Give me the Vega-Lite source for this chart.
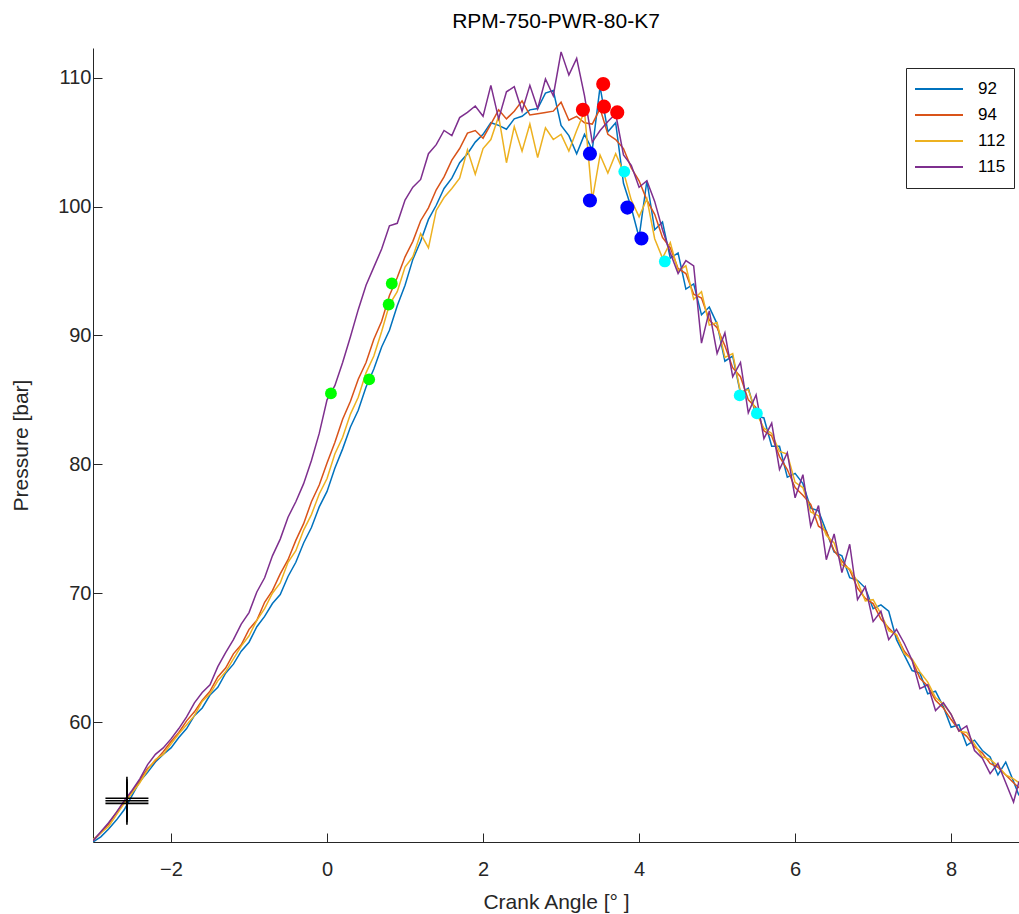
{
 "$schema": "https://vega.github.io/schema/vega-lite/v6.json",
 "width": 926,
 "height": 794,
 "autosize": {"type": "none"},
 "padding": {"left": 93, "top": 48, "right": 0, "bottom": 72},
 "background": "white",
 "title": {"text": "RPM-750-PWR-80-K7", "fontSize": 21, "fontWeight": "normal", "color": "#000000", "font": "Liberation Sans", "offset": 16, "anchor": "middle"},
 "config": {"view": {"stroke": null}, "font": "Liberation Sans"},
 "datasets": {
  "curves": [
   {"x":-3.0,"92":50.7,"94":50.8,"112":50.9,"115":50.8},
   {"x":-2.9,"92":51.1,"94":51.4,"112":51.4,"115":51.5},
   {"x":-2.8,"92":51.7,"94":52.1,"112":51.9,"115":52.2},
   {"x":-2.7,"92":52.4,"94":53.0,"112":52.8,"115":53.0},
   {"x":-2.6,"92":53.2,"94":53.8,"112":53.7,"115":53.9},
   {"x":-2.5,"92":54.3,"94":54.6,"112":54.5,"115":54.7},
   {"x":-2.4,"92":55.4,"94":55.5,"112":55.3,"115":55.6},
   {"x":-2.3,"92":56.1,"94":56.4,"112":56.3,"115":56.7},
   {"x":-2.2,"92":56.9,"94":57.0,"112":57.1,"115":57.5},
   {"x":-2.1,"92":57.5,"94":57.7,"112":57.5,"115":58.0},
   {"x":-2.0,"92":58.0,"94":58.5,"112":58.3,"115":58.7},
   {"x":-1.9,"92":58.8,"94":59.2,"112":59.1,"115":59.5},
   {"x":-1.8,"92":59.5,"94":60.1,"112":59.8,"115":60.4},
   {"x":-1.7,"92":60.5,"94":60.8,"112":60.5,"115":61.5},
   {"x":-1.6,"92":61.1,"94":61.7,"112":61.6,"115":62.3},
   {"x":-1.5,"92":62.1,"94":62.4,"112":62.2,"115":62.9},
   {"x":-1.4,"92":62.7,"94":63.5,"112":63.2,"115":64.3},
   {"x":-1.3,"92":63.8,"94":64.2,"112":63.9,"115":65.4},
   {"x":-1.2,"92":64.5,"94":65.3,"112":64.9,"115":66.4},
   {"x":-1.1,"92":65.5,"94":66.0,"112":65.9,"115":67.6},
   {"x":-1.0,"92":66.2,"94":67.2,"112":66.7,"115":68.5},
   {"x":-0.9,"92":67.4,"94":67.9,"112":67.9,"115":70.1},
   {"x":-0.8,"92":68.2,"94":69.3,"112":68.8,"115":71.2},
   {"x":-0.7,"92":69.2,"94":70.2,"112":70.0,"115":72.9},
   {"x":-0.6,"92":69.9,"94":71.5,"112":70.8,"115":74.2},
   {"x":-0.5,"92":71.3,"94":72.6,"112":72.4,"115":75.9},
   {"x":-0.4,"92":72.4,"94":74.1,"112":73.3,"115":77.1},
   {"x":-0.3,"92":73.9,"94":75.4,"112":74.9,"115":78.5},
   {"x":-0.2,"92":75.1,"94":77.1,"112":76.1,"115":80.3},
   {"x":-0.1,"92":76.7,"94":78.4,"112":77.7,"115":82.4},
   {"x":0.0,"92":77.9,"94":80.1,"112":78.9,"115":85.0},
   {"x":0.1,"92":79.7,"94":81.7,"112":80.8,"115":86.1},
   {"x":0.2,"92":81.2,"94":83.5,"112":82.1,"115":87.9},
   {"x":0.3,"92":82.9,"94":84.9,"112":83.9,"115":89.9},
   {"x":0.4,"92":84.2,"94":86.6,"112":85.2,"115":92.0},
   {"x":0.5,"92":86.0,"94":87.9,"112":87.1,"115":93.9},
   {"x":0.6,"92":87.4,"94":89.7,"112":88.4,"115":95.3},
   {"x":0.7,"92":89.1,"94":91.1,"112":90.3,"115":96.7},
   {"x":0.8,"92":90.4,"94":93.1,"112":92.4,"115":98.5},
   {"x":0.9,"92":92.3,"94":94.5,"112":93.4,"115":98.7},
   {"x":1.0,"92":93.9,"94":96.1,"112":95.3,"115":100.5},
   {"x":1.1,"92":95.9,"94":97.3,"112":96.1,"115":101.5},
   {"x":1.2,"92":97.3,"94":98.9,"112":97.9,"115":102.1},
   {"x":1.3,"92":99.0,"94":99.9,"112":96.8,"115":104.1},
   {"x":1.4,"92":100.1,"94":101.3,"112":99.7,"115":104.8},
   {"x":1.5,"92":101.4,"94":102.3,"112":100.7,"115":105.9},
   {"x":1.6,"92":102.2,"94":103.6,"112":101.4,"115":105.5},
   {"x":1.7,"92":103.4,"94":104.5,"112":102.2,"115":106.9},
   {"x":1.8,"92":104.1,"94":105.7,"112":104.4,"115":107.3},
   {"x":1.9,"92":105.0,"94":105.9,"112":102.5,"115":107.8},
   {"x":2.0,"92":105.6,"94":105.3,"112":104.5,"115":107.0},
   {"x":2.1,"92":106.5,"94":106.4,"112":105.2,"115":109.4},
   {"x":2.2,"92":106.3,"94":107.5,"112":107.0,"115":106.8},
   {"x":2.3,"92":106.0,"94":106.8,"112":103.4,"115":108.9},
   {"x":2.4,"92":106.8,"94":107.4,"112":106.2,"115":109.3},
   {"x":2.5,"92":107.0,"94":108.2,"112":104.3,"115":107.4},
   {"x":2.6,"92":107.5,"94":107.1,"112":106.4,"115":109.4},
   {"x":2.7,"92":107.6,"94":107.2,"112":103.8,"115":107.6},
   {"x":2.8,"92":108.8,"94":107.3,"112":106.1,"115":109.9},
   {"x":2.9,"92":109.0,"94":107.4,"112":105.2,"115":108.6},
   {"x":3.0,"92":106.3,"94":108.1,"112":105.6,"115":112.0},
   {"x":3.1,"92":105.5,"94":106.7,"112":104.3,"115":110.2},
   {"x":3.2,"92":104.1,"94":107.0,"112":105.9,"115":111.5},
   {"x":3.3,"92":105.6,"94":106.5,"112":107.4,"115":108.6},
   {"x":3.4,"92":104.4,"94":106.4,"112":100.5,"115":105.0},
   {"x":3.5,"92":109.3,"94":107.6,"112":104.0,"115":105.9},
   {"x":3.6,"92":105.8,"94":105.6,"112":102.6,"115":106.6},
   {"x":3.7,"92":106.5,"94":105.2,"112":104.1,"115":107.2},
   {"x":3.8,"92":101.8,"94":104.5,"112":102.7,"115":104.0},
   {"x":3.9,"92":99.9,"94":103.0,"112":100.5,"115":103.2},
   {"x":4.0,"92":97.6,"94":102.0,"112":99.2,"115":101.5},
   {"x":4.1,"92":102.0,"94":100.5,"112":100.6,"115":102.0},
   {"x":4.2,"92":98.2,"94":99.4,"112":97.5,"115":100.4},
   {"x":4.3,"92":98.8,"94":97.6,"112":96.0,"115":98.2},
   {"x":4.4,"92":96.0,"94":96.8,"112":97.2,"115":96.4},
   {"x":4.5,"92":96.4,"94":95.2,"112":95.0,"115":94.8},
   {"x":4.6,"92":93.6,"94":94.8,"112":95.4,"115":95.8},
   {"x":4.7,"92":94.0,"94":93.2,"112":92.8,"115":95.4},
   {"x":4.8,"92":91.6,"94":92.9,"112":93.4,"115":89.4},
   {"x":4.9,"92":92.2,"94":91.2,"112":90.8,"115":91.9},
   {"x":5.0,"92":90.9,"94":90.6,"112":91.0,"115":88.6},
   {"x":5.1,"92":88.0,"94":89.2,"112":88.3,"115":90.2},
   {"x":5.2,"92":88.4,"94":87.5,"112":88.6,"115":86.8},
   {"x":5.3,"92":85.5,"94":86.8,"112":85.6,"115":87.9},
   {"x":5.4,"92":85.9,"94":85.0,"112":85.8,"115":84.0},
   {"x":5.5,"92":83.8,"94":84.4,"112":84.0,"115":85.4},
   {"x":5.6,"92":83.6,"94":82.6,"112":82.8,"115":82.0},
   {"x":5.7,"92":81.4,"94":82.2,"112":82.4,"115":83.2},
   {"x":5.8,"92":81.4,"94":80.6,"112":81.0,"115":79.6},
   {"x":5.9,"92":79.0,"94":79.6,"112":80.8,"115":80.9},
   {"x":6.0,"92":79.3,"94":78.2,"112":78.6,"115":77.4},
   {"x":6.1,"92":78.5,"94":77.6,"112":78.2,"115":79.2},
   {"x":6.2,"92":76.6,"94":76.9,"112":76.3,"115":75.2},
   {"x":6.3,"92":76.4,"94":75.2,"112":76.0,"115":76.8},
   {"x":6.4,"92":74.8,"94":74.8,"112":74.5,"115":72.6},
   {"x":6.5,"92":73.2,"94":73.3,"112":73.9,"115":74.6},
   {"x":6.6,"92":72.9,"94":72.5,"112":72.2,"115":71.6},
   {"x":6.7,"92":71.2,"94":71.8,"112":71.9,"115":73.8},
   {"x":6.8,"92":71.0,"94":70.4,"112":70.9,"115":69.5},
   {"x":6.9,"92":70.4,"94":69.6,"112":69.4,"115":70.5},
   {"x":7.0,"92":68.8,"94":69.2,"112":69.5,"115":67.8},
   {"x":7.1,"92":69.1,"94":68.0,"112":68.4,"115":68.6},
   {"x":7.2,"92":68.6,"94":67.3,"112":67.1,"115":66.4},
   {"x":7.3,"92":66.4,"94":66.7,"112":66.8,"115":67.2},
   {"x":7.4,"92":65.2,"94":65.5,"112":65.3,"115":66.1},
   {"x":7.5,"92":64.0,"94":64.8,"112":64.9,"115":64.8},
   {"x":7.6,"92":63.8,"94":63.4,"112":63.9,"115":62.6},
   {"x":7.7,"92":62.2,"94":62.8,"112":63.1,"115":62.9},
   {"x":7.8,"92":62.4,"94":61.7,"112":61.9,"115":60.9},
   {"x":7.9,"92":61.2,"94":61.1,"112":61.4,"115":61.5},
   {"x":8.0,"92":59.6,"94":60.2,"112":60.6,"115":60.6},
   {"x":8.1,"92":59.8,"94":59.4,"112":59.3,"115":59.3},
   {"x":8.2,"92":58.2,"94":58.9,"112":59.2,"115":59.7},
   {"x":8.3,"92":58.6,"94":58.1,"112":58.3,"115":57.8},
   {"x":8.4,"92":57.8,"94":57.6,"112":57.3,"115":57.2},
   {"x":8.5,"92":57.3,"94":56.8,"112":57.1,"115":56.0},
   {"x":8.6,"92":55.9,"94":56.5,"112":56.6,"115":56.8},
   {"x":8.7,"92":56.9,"94":55.9,"112":55.9,"115":55.3},
   {"x":8.8,"92":55.4,"94":55.3,"112":55.6,"115":53.8},
   {"x":8.87,"92":54.3,"94":54.9,"112":55.3,"115":55.4}
  ],
  "dots": [
   {"x":3.28,"p":107.5,"kind":"max"},
   {"x":3.54,"p":109.5,"kind":"max"},
   {"x":3.55,"p":107.75,"kind":"max"},
   {"x":3.72,"p":107.3,"kind":"max"},
   {"x":3.37,"p":104.1,"kind":"min"},
   {"x":3.37,"p":100.47,"kind":"min"},
   {"x":3.85,"p":99.92,"kind":"min"},
   {"x":4.03,"p":97.52,"kind":"min"}
  ],
  "smalldots": [
   {"x":3.81,"p":102.71,"kind":"mid"},
   {"x":4.33,"p":95.74,"kind":"mid"},
   {"x":5.29,"p":85.35,"kind":"mid"},
   {"x":5.51,"p":83.95,"kind":"mid"},
   {"x":0.05,"p":85.5,"kind":"rise"},
   {"x":0.54,"p":86.59,"kind":"rise"},
   {"x":0.79,"p":92.4,"kind":"rise"},
   {"x":0.83,"p":94.03,"kind":"rise"}
  ],
  "cross": [
   {"x":-2.565,"p":54.09},
   {"x":-2.565,"p":53.9},
   {"x":-2.565,"p":53.7}
  ]
 },
 "layer": [
  {
   "data": {"name": "curves"},
   "transform": [{"fold": ["92", "94", "112", "115"], "as": ["series", "p"]}],
   "mark": {"type": "line", "strokeWidth": 1.5, "clip": true},
   "encoding": {
    "x": {"field": "x", "type": "quantitative",
     "scale": {"domain": [-3, 8.87], "nice": false, "zero": false},
     "axis": {"values": [-2, 0, 2, 4, 6, 8], "format": "~g", "title": "Crank Angle [° ]", "grid": false, "tickSize": -9, "labelFontSize": 20, "titleFontSize": 21, "titleFontWeight": "normal", "labelColor": "#262626", "titleColor": "#262626", "domainColor": "#262626", "tickColor": "#262626", "labelPadding": 26, "titlePadding": 12, "labelFont": "Liberation Sans", "titleFont": "Liberation Sans"}},
    "y": {"field": "p", "type": "quantitative",
     "scale": {"domain": [50.7, 112.3], "nice": false, "zero": false},
     "axis": {"values": [60, 70, 80, 90, 100, 110], "title": "Pressure [bar]", "grid": false, "tickSize": -9, "labelFontSize": 20, "titleFontSize": 21, "titleFontWeight": "normal", "labelColor": "#262626", "titleColor": "#262626", "domainColor": "#262626", "tickColor": "#262626", "labelPadding": 11, "titlePadding": 26, "labelFont": "Liberation Sans", "titleFont": "Liberation Sans"}},
    "color": {"field": "series", "type": "nominal",
     "scale": {"domain": ["92", "94", "112", "115"], "range": ["#0072BD", "#D95319", "#EDB120", "#7E2F8E"]},
     "legend": {"orient": "none", "legendX": 813, "legendY": 20, "title": null, "symbolType": "stroke", "symbolSize": 2304, "symbolStrokeWidth": 2, "labelFontSize": 17, "labelColor": "#000000", "labelFont": "Liberation Sans", "strokeColor": "#262626", "fillColor": "#ffffff", "padding": 8, "rowPadding": 0, "clipHeight": 26, "labelOffset": 14}}
   }
  },
  {
   "data": {"name": "dots"},
   "mark": {"type": "circle", "size": 200, "opacity": 1},
   "encoding": {
    "x": {"field": "x", "type": "quantitative"},
    "y": {"field": "p", "type": "quantitative"},
    "fill": {"field": "kind", "type": "nominal", "scale": {"domain": ["max", "min", "mid", "rise"], "range": ["#FF0000", "#0000FF", "#00FFFF", "#00FF00"]}, "legend": null}
   }
  },
  {
   "data": {"name": "smalldots"},
   "mark": {"type": "circle", "size": 140, "opacity": 1},
   "encoding": {
    "x": {"field": "x", "type": "quantitative"},
    "y": {"field": "p", "type": "quantitative"},
    "fill": {"field": "kind", "type": "nominal", "scale": {"domain": ["max", "min", "mid", "rise"], "range": ["#FF0000", "#0000FF", "#00FFFF", "#00FF00"]}, "legend": null}
   }
  },
  {
   "data": {"name": "cross"},
   "mark": {"type": "point", "shape": "M-1,0L1,0M0,-1L0,1", "size": 1849, "filled": false, "stroke": "#000000", "strokeWidth": 1.6, "opacity": 1},
   "encoding": {
    "x": {"field": "x", "type": "quantitative"},
    "y": {"field": "p", "type": "quantitative"}
   }
  }
 ]
}
